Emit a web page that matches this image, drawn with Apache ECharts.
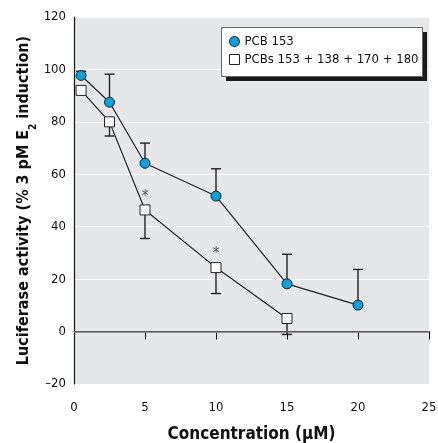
<!DOCTYPE html>
<html><head><meta charset="utf-8">
<script src="https://cdn.jsdelivr.net/npm/echarts@6/dist/echarts.min.js"></script>
<style>html,body{margin:0;padding:0;background:#fff}#c{width:438px;height:443px}</style>
</head><body><div id="c"></div>
<script>
const FONT = '"DejaVu Sans Condensed","Liberation Sans Narrow",sans-serif';
const xSingle = [0.5, 2.5, 5, 10, 15, 20];
const ySingle = [97.7, 87.5, 64.2, 51.7, 18.2, 10.1];
const errSingleTop = [99.3, 98.2, 71.9, 62.1, 29.5, 23.7];
const xMix = [0.5, 2.5, 5, 10, 15];
const yMix = [92, 80, 46.4, 24.4, 5];
const errMixBottom = [92, 74.6, 35.5, 14.5, -1.1];
const sigMix = [false, false, true, true, false];
const xTicks = [0, 5, 10, 15, 20, 25];
const yTicks = [-20, 0, 20, 40, 60, 80, 100, 120];

const chart = echarts.init(document.getElementById('c'));
function errBar(xs, ys, es) {
  return {
    type: 'custom', silent: true, z: 1,
    data: xs.map((x, i) => [x, ys[i], es[i]]),
    renderItem: function (params, api) {
      const p = api.coord([api.value(0), api.value(1)]);
      const e = api.coord([api.value(0), api.value(2)]);
      const style = { stroke: '#222', lineWidth: 1.4 };
      return { type: 'group', children: [
        { type: 'line', shape: { x1: p[0], y1: p[1], x2: e[0], y2: e[1] }, style },
        { type: 'line', shape: { x1: e[0] - 5, y1: e[1], x2: e[0] + 5, y2: e[1] }, style }
      ]};
    }
  };
}
chart.setOption({
  animation: false,
  grid: { left: 74, right: 9, top: 17, bottom: 59, show: true, backgroundColor: '#e6e7e9', borderWidth: 0,
    containLabel: false, outerBoundsMode: 'none' },
  graphic: [
    { type: 'rect', z: 10, shape: { x: 226, y: 32, width: 201, height: 49 }, style: { fill: '#1a1a1a' } },
    { type: 'rect', z: 11, shape: { x: 221.5, y: 27.5, width: 201, height: 49 }, style: { fill: '#fff', stroke: '#666', lineWidth: 1 } }
  ],
  legend: {
    left: 221, top: 27, orient: 'vertical', itemGap: 5, z: 20,
    padding: [8, 8, 6, 8],
    itemWidth: 10, itemHeight: 10,
    textStyle: { fontFamily: FONT, fontSize: 13, color: '#111' },
    data: [
      { name: 'PCB 153', icon: 'circle', itemStyle: { color: '#05a3e0', borderColor: '#222', borderWidth: 1 } },
      { name: 'PCBs 153 + 138 + 170 + 180', icon: 'rect', itemStyle: { color: '#fff', borderColor: '#222', borderWidth: 1 } }
    ]
  },
  xAxis: {
    type: 'value', min: 0, max: 25, interval: 5,
    name: 'Concentration (\u03bcM)', nameLocation: 'middle', nameGap: 42, nameMoveOverlap: false,
    nameTextStyle: { fontFamily: FONT, fontWeight: 'bold', fontSize: 17, color: '#111' },
    axisLine: { lineStyle: { color: '#111', width: 1.2 } },
    axisTick: { length: 8, lineStyle: { color: '#111' } },
    splitLine: { show: false },
    axisLabel: { fontFamily: FONT, fontSize: 13, color: '#111', margin: 17 }
  },
  yAxis: {
    type: 'value', min: -20, max: 120, interval: 20,
    name: '{n|Luciferase activity (% 3 pM E}{s|2}{n| induction)}', nameLocation: 'middle', nameGap: 42, nameMoveOverlap: false,
    nameTextStyle: { rich: {
      n: { fontFamily: FONT, fontWeight: 'bold', fontSize: 16, color: '#111' },
      s: { fontFamily: FONT, fontWeight: 'bold', fontSize: 10, color: '#111', verticalAlign: 'bottom', padding: [0, 0, -6, 0] }
    } },
    axisLine: { show: true, lineStyle: { color: '#111', width: 1.2 } },
    axisTick: { show: false },
    splitLine: { lineStyle: { color: '#ffffff', width: 1.2 } },
    axisLabel: { fontFamily: FONT, fontSize: 13, color: '#111', margin: 8,
      formatter: v => v < 0 ? '\u2013' + Math.abs(v) : String(v) }
  },
  series: [
    errBar(xSingle, ySingle, errSingleTop),
    errBar(xMix, yMix, errMixBottom),
    {
      name: 'PCB 153', type: 'line', z: 3,
      data: xSingle.map((x, i) => [x, ySingle[i]]),
      symbol: 'circle', symbolSize: 10,
      lineStyle: { color: '#222', width: 1.2 },
      itemStyle: { color: '#05a3e0', borderColor: '#222', borderWidth: 1 },
      markLine: { silent: true, symbol: 'none', label: { show: false },
        lineStyle: { color: '#777', width: 1.5, type: 'solid' }, data: [{ yAxis: 0 }] }
    },
    {
      name: 'PCBs 153 + 138 + 170 + 180', type: 'line', z: 3,
      data: xMix.map((x, i) => ({ value: [x, yMix[i]],
        label: { show: sigMix[i], formatter: '*', position: 'top', distance: 0,
          fontFamily: FONT, fontSize: 15, color: '#555' } })),
      symbol: 'rect', symbolSize: 10,
      lineStyle: { color: '#222', width: 1.2 },
      itemStyle: { color: '#fff', borderColor: '#222', borderWidth: 1 }
    }
  ]
});
</script></body></html>
